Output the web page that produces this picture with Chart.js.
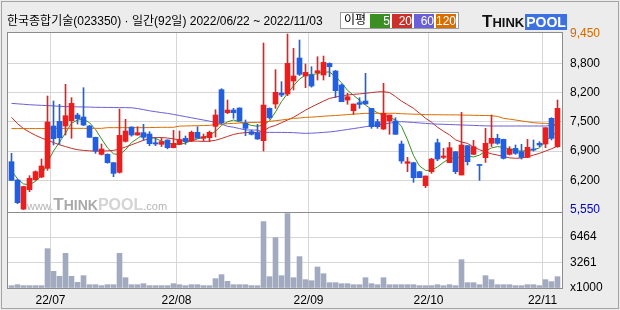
<!DOCTYPE html>
<html><head><meta charset="utf-8">
<script src="https://cdn.jsdelivr.net/npm/chart.js@4.4.0/dist/chart.umd.min.js"></script>
<style>
html,body{margin:0;padding:0;background:#ececec;}
#wrap{position:relative;width:620px;height:310px;background:#ececec;overflow:hidden;font-family:"Liberation Sans","Noto Sans CJK KR",sans-serif;}
#frame{position:absolute;left:1px;top:1px;width:616px;height:306px;border:1px solid #a4a4a4;pointer-events:none;}
canvas{position:absolute;left:0;top:0;}
#title{position:absolute;left:7px;top:14px;font-size:12px;line-height:15px;color:#000;white-space:nowrap;}
#legend{position:absolute;left:340px;top:12px;width:117px;height:15px;border:1px solid #9a9a9a;background:#fff;font-size:12px;}
#legend .lb{position:absolute;left:3px;top:0;line-height:15px;color:#000;}
#legend .bx{position:absolute;top:1px;width:20px;height:14px;color:#fff;text-align:right;line-height:14px;font-size:12px;}
#logo{position:absolute;left:482px;top:12px;height:16px;white-space:nowrap;font-family:"Liberation Sans",sans-serif;font-weight:bold;}
#logo .t1{font-size:17px;color:#111;}
#logo .t2{font-size:13px;color:#111;}
#logo .p{display:inline-block;background:#3d70e0;color:#fff;font-size:14px;line-height:16px;padding:0 1px;margin-left:1px;}
#wm{position:absolute;left:27px;top:195px;white-space:nowrap;pointer-events:none;font-family:"Liberation Sans",sans-serif;}
#wm .w{font-size:11px;color:#b4b4b4;}
#wm .t1{font-size:17px;font-weight:bold;color:#a9a9a9;}
#wm .t2{font-size:14px;font-weight:bold;color:#a9a9a9;}
#wm .p{font-size:16px;font-weight:bold;color:#d4d4d4;}
#wm .c{font-size:11px;color:#b4b4b4;}
</style></head>
<body>
<div id="wrap">
<canvas id="c" width="620" height="310"></canvas>
<div id="title">한국종합기술(023350) · 일간(92일) 2022/06/22 ~ 2022/11/03</div>
<div id="legend"><span class="lb">이평</span>
<span class="bx" style="left:29px;background:#3b8e23">5</span>
<span class="bx" style="left:51px;background:#c8322a">20</span>
<span class="bx" style="left:73px;background:#6a5fd6">60</span>
<span class="bx" style="left:95px;background:#d96d00">120</span></div>
<div id="logo"><span class="t1">T</span><span class="t2">HINK</span><span class="p">POOL</span></div>
<div id="wm"><span class="w">www.</span><span class="t1">T</span><span class="t2">HINK</span><span class="p">POOL</span><span class="c">.com</span></div>
<div id="frame"></div>
</div>
<script>
// ---- data ----
const monthLabels = ['22/07','22/08','22/09','22/10','22/11'];
const monthStartIdx = [7, 28, 50, 70, 89];
const priceTickVals = [5550, 6200, 6850, 7500, 8150, 8800, 9450];
const priceTickLabels = ['5,550','6,200','6,900','7,500','8,200','8,800','9,450'];
const volTickVals = [0, 3261, 6464];
const volTickLabels = ['x1000','3261','6464'];

const opens  = [6614,6207,5560,5992,6214,6273,6466,7407,7510,7407,7525,7651,7607,7407,7155,6777,6777,6592,6377,7066,7384,7207,7259,7229,7036,
                7000,7096,6925,7000,7133,7073,7266,7133,7148,7399,8214,7703,7762,7807,7466,7281,7259,7081,7799,7896,8140,8118,8407,8918,8518,
                8540,8592,8540,8799,8629,8318,7984,7747,7925,7962,7799,7503,7340,7518,7518,7007,6577,6592,6392,6081,6392,7036,6710,6592,6836,
                6318,6970,6777,6540,6703,7022,7133,7110,6777,6910,6836,6710,6896,7022,7007,7577,6948];
const highs  = [6799,6220,6070,6303,6410,6673,8073,7962,7888,8333,8036,7690,8258,7420,7160,7007,6790,6600,7784,7555,7390,7392,7444,7281,7147,
                7140,7100,7310,7296,7185,7296,7392,7229,7296,7769,8236,7984,7800,7810,7540,7318,7444,9251,7810,8658,8392,9451,9132,9318,8784,
                8725,8947,8962,8810,8640,8340,8133,7896,8036,8577,7800,7555,8355,7651,7592,7073,6710,6600,6400,6296,6688,7118,6910,7044,6840,
                7710,6975,7088,6545,7355,7651,7222,7115,6948,6985,7000,7110,7096,7059,7370,7592,7984];
const lows   = [6190,5680,5550,5947,6200,6260,6422,6985,6999,7207,7133,7450,7414,7150,6799,6762,6580,6281,6360,7050,7180,7200,7088,6970,6970,
                6950,6900,6920,6990,7000,7060,7260,7073,7059,7162,7451,7680,7577,7518,7192,7207,7110,6851,7560,7799,8058,8081,8207,8530,8258,
                8270,8429,8429,8503,8036,7947,7890,7666,7799,7890,7355,7355,7330,7222,7222,6577,6392,6155,6259,6036,6355,6636,6680,6590,6348,
                6318,6540,6770,6199,6599,6950,7000,6673,6762,6777,6673,6700,6850,6948,6925,7096,6933];
const closes = [6199,5703,6062,6244,6392,6518,7496,7125,7147,7636,7910,7570,7429,7155,6851,6896,6592,6355,7199,7296,7207,7259,7155,7014,7007,
                7059,6925,7022,7103,7059,7266,7133,7170,7266,7651,7481,7762,7703,7518,7355,7222,7118,7873,7592,8155,8095,8799,8518,8555,8599,
                8296,8636,8821,8725,8192,7947,8058,7896,7888,7896,7392,7392,7688,7651,7222,6629,6614,6259,6259,6296,6673,6673,6740,6925,6392,
                6985,6614,6948,6530,7022,7133,7022,6688,6896,6799,6710,6932,6873,6985,7370,7133,7799];
const volumes = [300,420,300,300,300,300,5000,2120,1480,4410,1480,720,1570,420,420,300,420,420,4410,1310,420,420,550,300,300,
                 300,300,550,420,300,420,420,300,300,1190,1700,850,420,420,420,300,300,8440,1440,6400,1570,9455,1310,3990,1060,
                 930,2670,1820,680,680,550,550,420,420,1310,550,420,1310,420,420,420,420,420,300,300,300,420,300,420,300,
                 3600,680,680,420,1570,1060,420,420,420,300,300,420,420,300,1060,810,1440];
const ma5   = [6420,6230,6120,6100,6180,6300,6600,6850,7050,7250,7470,7540,7560,7480,7330,7120,6920,6790,6770,6880,7040,7130,7230,7180,7130,
               7070,7030,7000,7000,7030,7080,7120,7160,7200,7290,7420,7500,7540,7500,7460,7420,7400,7430,7520,7720,7950,8130,8300,8450,8540,
               8550,8570,8600,8610,8500,8370,8200,8090,7980,7870,7780,7700,7650,7600,7540,7400,7100,6750,6520,6420,6420,6500,6600,6680,6700,
               6720,6740,6720,6760,6850,6920,6950,6930,6900,6860,6850,6860,6880,6920,7060,7190,7280];
const ma20  = [7600,7460,7350,7270,7200,7140,7090,7040,6990,6950,6910,6880,6865,6855,6850,6850,6855,6865,6895,6940,6990,7040,7090,7130,7150,
               7150,7140,7120,7100,7085,7075,7070,7065,7070,7090,7130,7175,7220,7245,7260,7265,7260,7300,7380,7420,7480,7540,7600,7680,7760,
               7830,7896,7960,8020,8050,8080,8095,8110,8120,8133,8150,8165,8170,8150,8060,7960,7880,7800,7690,7580,7490,7380,7290,7210,7100,
               7050,7020,6940,6880,6830,6790,6760,6730,6700,6690,6695,6720,6760,6800,6850,6900,6960];
const ma60  = [7910,7900,7890,7880,7873,7866,7860,7853,7845,7838,7835,7832,7830,7827,7823,7821,7820,7818,7816,7815,7812,7795,7770,7745,7725,
               7705,7688,7665,7640,7615,7590,7565,7540,7515,7488,7450,7400,7380,7350,7320,7318,7316,7266,7266,7265,7265,7262,7260,7250,7244,
               7248,7255,7265,7275,7290,7310,7330,7350,7370,7392,7410,7430,7451,7470,7490,7503,7495,7485,7475,7465,7455,7448,7445,7440,7435,
               7430,7425,7420,7415,7410,7407,7407,7407,7407,7407,7407,7407,7407,7407,7407,7420,7430];
const ma120 = [7350,7350,7350,7350,7350,7350,7355,7355,7355,7355,7355,7355,7355,7355,7355,7355,7370,7370,7370,7370,7370,7370,7370,7372,7375,
               7378,7378,7378,7405,7408,7411,7414,7417,7420,7444,7450,7458,7466,7474,7480,7485,7488,7490,7510,7525,7540,7558,7577,7585,7599,
               7605,7614,7625,7633,7641,7650,7660,7670,7680,7688,7688,7689,7690,7690,7690,7680,7675,7670,7666,7660,7658,7657,7656,7655,7655,
               7650,7648,7645,7642,7640,7636,7620,7577,7560,7540,7520,7500,7481,7470,7466,7450,7430];

// ---- chart ----
const idx = opens.map((_, i) => i);
const UP = '#f01c1c', DOWN = '#1f5fe6';
const candleColor = i => closes[i] >= opens[i] ? UP : DOWN;
const tickFont = {family: '"Liberation Sans", sans-serif', size: 12};
const GRID = '#d6d6d6';

const paneFrame = {
  id: 'paneFrame',
  beforeDraw(chart) {
    const {ctx, chartArea} = chart;
    ctx.save();
    ctx.fillStyle = '#ffffff';
    ctx.fillRect(chartArea.left, chartArea.top, chartArea.right - chartArea.left, chartArea.bottom - chartArea.top);
    ctx.restore();
  },
  afterDraw(chart) {
    const {ctx, chartArea} = chart;
    const y = chart.scales.y, yv = chart.scales.yv;
    ctx.save();
    ctx.strokeStyle = '#8c8c8c';
    ctx.lineWidth = 1;
    ctx.beginPath();
    const L = chartArea.left + 0.5, R = chartArea.right + 0.5;
    [y.top + 0.5, y.bottom + 0.5, yv.bottom + 0.5].forEach(v => { ctx.moveTo(L, v); ctx.lineTo(R, v); });
    ctx.moveTo(L, y.top); ctx.lineTo(L, yv.bottom + 1);
    ctx.moveTo(R, y.top); ctx.lineTo(R, yv.bottom + 1);
    ctx.stroke();
    ctx.restore();
  }
};

const lineDs = (label, arr, color) => ({
  type: 'line', label, data: idx.map(i => ({x: i, y: arr[i]})), borderColor: color, backgroundColor: color,
  borderWidth: 1, pointRadius: 0, tension: 0, yAxisID: 'y', order: 3
});

new Chart(document.getElementById('c'), {
  type: 'bar',
  data: {
    datasets: [
      lineDs('MA120', ma120, '#d96d00'),
      lineDs('MA60', ma60, '#6a5fd6'),
      lineDs('MA20', ma20, '#c0302a'),
      lineDs('MA5', ma5, '#3b8e23'),
      {label: 'wick', data: idx.map(i => ({x: i, y: [lows[i], highs[i]]})), backgroundColor: idx.map(candleColor),
       barThickness: 1, grouped: false, yAxisID: 'y', order: 2},
      {label: 'body', data: idx.map(i => ({x: i, y: [opens[i], closes[i]]})), backgroundColor: idx.map(candleColor),
       barThickness: 5, grouped: false, minBarLength: 1, yAxisID: 'y', order: 1},
      {label: 'volume', data: idx.map(i => ({x: i, y: volumes[i]})), backgroundColor: '#a2aac1',
       barThickness: 5, grouped: false, yAxisID: 'yv', order: 1}
    ]
  },
  options: {
    responsive: false, animation: false,
    layout: {padding: {left: 7, top: 32, right: 0, bottom: 0}},
    plugins: {legend: {display: false}, tooltip: {enabled: false}},
    scales: {
      x: {
        type: 'linear', min: -0.75, max: 91.75, offset: false,
        afterBuildTicks: s => { s.ticks = monthStartIdx.map(v => ({value: v - 0.5})); },
        afterFit: s => { s.height = 22; },
        ticks: {callback: (v, i) => monthLabels[i], font: tickFont, color: '#000', padding: 5, maxRotation: 0, autoSkip: false},
        grid: {color: GRID, drawTicks: false, offset: false},
        border: {display: false}
      },
      y: {
        position: 'right', stack: 'pane', stackWeight: 180, min: 5496, max: 9496,
        afterBuildTicks: s => { s.ticks = priceTickVals.map(v => ({value: v})); },
        afterFit: s => { s.width = 58; },
        ticks: {callback: (v, i) => priceTickLabels[i], font: tickFont, padding: 8, autoSkip: false,
                color: c => c.index === 0 ? '#0000cc' : (c.index === priceTickVals.length - 1 ? '#d26a00' : '#000')},
        grid: {color: c => (c.index === 0 || c.index === priceTickVals.length - 1) ? 'rgba(0,0,0,0)' : GRID, drawTicks: false},
        border: {display: false}
      },
      yv: {
        position: 'right', stack: 'pane', stackWeight: 76, min: 0, max: 9660,
        afterBuildTicks: s => { s.ticks = volTickVals.map(v => ({value: v})); },
        afterFit: s => { s.width = 58; },
        ticks: {callback: (v, i) => volTickLabels[i], font: tickFont, padding: 8, color: '#000', autoSkip: false},
        grid: {color: c => c.index === 0 ? 'rgba(0,0,0,0)' : GRID, drawTicks: false},
        border: {display: false}
      }
    }
  },
  plugins: [paneFrame]
});
</script>
</body></html>
